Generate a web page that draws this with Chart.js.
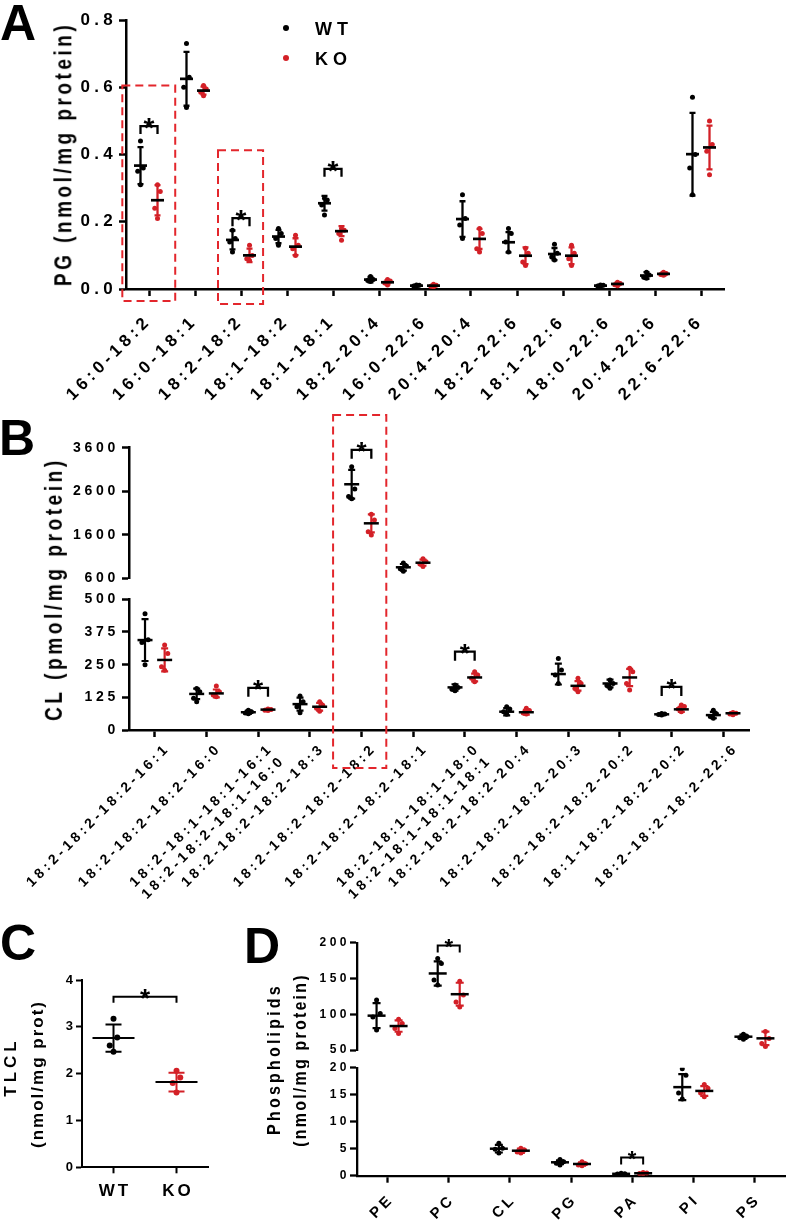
<!DOCTYPE html>
<html>
<head>
<meta charset="utf-8">
<title>PG, CL, TLCL and phospholipids, WT vs KO</title>
<script src="https://cdn.jsdelivr.net/npm/chart.js@4/dist/chart.umd.min.js"></script>
<style>
  html, body { margin: 0; background: #fff; }
  #fig { position: relative; width: 788px; height: 1223px; overflow: hidden;
         font-family: "Liberation Sans", Arial, sans-serif; font-weight: bold; color: #000; }
  #fig canvas { position: absolute; }
  .txt { position: absolute; white-space: nowrap; line-height: 1; }
  .letter { font-size: 50px; }
  .dot { position: absolute; width: 6px; height: 6px; border-radius: 50%; }
</style>
</head>
<body>
<div id="fig">
  <canvas id="chartA" width="788" height="410" style="left:0;top:0"></canvas>
  <canvas id="chartB" width="788" height="570" style="left:0;top:400px"></canvas>
  <canvas id="chartC" width="260" height="283" style="left:0;top:940px"></canvas>
  <canvas id="chartD" width="528" height="323" style="left:260px;top:900px"></canvas>

  <div class="txt letter" style="left:0;top:-2px">A</div>
  <div class="txt letter" style="left:-1px;top:413px">B</div>
  <div class="txt letter" style="left:0;top:918px">C</div>
  <div class="txt letter" style="left:244px;top:921px">D</div>

  <!-- legend of panel A -->
  <div class="dot" style="left:283px;top:25px;background:#000"></div>
  <div class="txt" style="left:315px;top:20px;font-size:18px;letter-spacing:5px">WT</div>
  <div class="dot" style="left:283px;top:55px;background:#d32027"></div>
  <div class="txt" style="left:315px;top:50px;font-size:18px;letter-spacing:5px">KO</div>

  <!-- axis titles -->
  <div class="txt" style="left:63px;top:154px;font-size:19px;letter-spacing:3.5px;transform:translate(-50%,-50%) rotate(-90deg) scaleY(1.3)">PG (nmol/mg protein)</div>
  <div class="txt" style="left:54px;top:589px;font-size:19px;letter-spacing:3.6px;transform:translate(-50%,-50%) rotate(-90deg) scaleY(1.25)">CL (pmol/mg protein)</div>
  <div class="txt" style="left:10px;top:1067px;font-size:17px;letter-spacing:4px;transform:translate(-50%,-50%) rotate(-90deg)">TLCL</div>
  <div class="txt" style="left:37px;top:1074px;font-size:17px;letter-spacing:2px;transform:translate(-50%,-50%) rotate(-90deg)">(nmol/mg prot)</div>
  <div class="txt" style="left:274px;top:1059px;font-size:16px;letter-spacing:3.2px;transform:translate(-50%,-50%) rotate(-90deg) scaleY(1.1)">Phospholipids</div>
  <div class="txt" style="left:300px;top:1060px;font-size:16px;letter-spacing:2.2px;transform:translate(-50%,-50%) rotate(-90deg) scaleY(1.1)">(nmol/mg protein)</div>
</div>

<script>
// ---------- Panel A: PG species (nmol/mg protein), n = 4 per group
const pgSpecies = ['16:0-18:2', '16:0-18:1', '18:2-18:2', '18:1-18:2', '18:1-18:1', '18:2-20:4',
  '16:0-22:6', '20:4-20:4', '18:2-22:6', '18:1-22:6', '18:0-22:6', '20:4-22:6', '22:6-22:6'];
const pgWtMean = [0.367, 0.625, 0.146, 0.156, 0.255, 0.028, 0.010, 0.208, 0.139, 0.104, 0.010, 0.040, 0.401];
const pgWtSd   = [0.055, 0.080, 0.028, 0.020, 0.022, 0.008, 0.002, 0.053, 0.030, 0.018, 0.002, 0.010, 0.123];
const pgKoMean = [0.264, 0.590, 0.100, 0.126, 0.172, 0.020, 0.010, 0.149, 0.099, 0.099, 0.015, 0.045, 0.421];
const pgKoSd   = [0.045, 0.012, 0.020, 0.025, 0.015, 0.006, 0.003, 0.030, 0.025, 0.025, 0.004, 0.005, 0.065];
const pgWtPts = [[0.44, 0.36, 0.35, 0.31], [0.73, 0.63, 0.60, 0.54], [0.175, 0.15, 0.14, 0.11],
  [0.18, 0.165, 0.15, 0.13], [0.27, 0.265, 0.25, 0.22], [0.037, 0.028, 0.025, 0.022],
  [0.012, 0.011, 0.009, 0.008], [0.28, 0.21, 0.19, 0.15], [0.18, 0.165, 0.14, 0.11],
  [0.133, 0.106, 0.095, 0.086], [0.012, 0.011, 0.009, 0.008], [0.05, 0.042, 0.035, 0.032],
  [0.57, 0.40, 0.36, 0.28]];
const pgKoPts = [[0.31, 0.29, 0.24, 0.21], [0.605, 0.595, 0.585, 0.575], [0.13, 0.10, 0.09, 0.085],
  [0.16, 0.13, 0.12, 0.10], [0.18, 0.175, 0.165, 0.145], [0.028, 0.024, 0.018, 0.012],
  [0.014, 0.011, 0.008, 0.006], [0.18, 0.165, 0.12, 0.11], [0.121, 0.106, 0.08, 0.07],
  [0.13, 0.106, 0.09, 0.07], [0.02, 0.016, 0.013, 0.01], [0.05, 0.046, 0.043, 0.041],
  [0.50, 0.43, 0.41, 0.34]];
const pgTicks = [0, 0.8, 0.2];

// ---------- Panel B: CL species (pmol/mg protein), broken axis
const clSpecies = ['18:2-18:2-18:2-16:1', '18:2-18:2-18:2-16:0',
  ['18:2-18:1-18:1-16:1', '18:2-18:2-18:1-16:0'], '18:2-18:2-18:2-18:3', '18:2-18:2-18:2-18:2',
  '18:2-18:2-18:2-18:1', ['18:2-18:1-18:1-18:0', '18:2-18:1-18:1-18:1'], '18:2-18:2-18:2-20:4',
  '18:2-18:2-18:2-20:3', '18:2-18:2-18:2-20:2', '18:1-18:2-18:2-20:2', '18:2-18:2-18:2-22:6'];
const clWtMean = [344, 138, 68, 99, 2760, 853, 163, 70, 214, 178, 60, 57];
const clWtSd   = [80, 20, 6, 25, 330, 75, 12, 14, 40, 15, 3, 12];
const clKoMean = [268, 140, 78, 89, 1863, 958, 201, 68, 169, 201, 79, 64];
const clKoSd   = [44, 15, 3, 15, 207, 70, 15, 9, 18, 33, 10, 4];
const clWtPts = [[445, 345, 335, 250], [159, 146, 121, 108], [76, 70, 65, 62], [130, 108, 89, 66],
  [3160, 2650, 2480, 2430], [950, 880, 820, 760], [172, 163, 156, 150], [89, 80, 70, 60],
  [274, 230, 210, 178], [191, 178, 170, 160], [63, 61, 59, 57], [76, 62, 52, 45]];
const clKoPts = [[325, 293, 242, 229], [168, 146, 134, 127], [80, 78, 76, 75], [108, 95, 83, 72],
  [2070, 1939, 1670, 1594], [1050, 980, 930, 870], [223, 210, 198, 185], [83, 75, 65, 61],
  [198, 178, 159, 146], [236, 223, 178, 153], [96, 90, 80, 70], [67, 64, 61, 58]];
const clLowTicks = [0, 500, 125];
const clTopTicks = [600, 3600, 1000];

// ---------- Panel C: total CL (nmol/mg prot)
const tlclGroups = ['WT', 'KO'];
const tlclMean = [2.76, 1.82];
const tlclSd   = [0.29, 0.20];
const tlclPts  = [[3.17, 2.77, 2.60, 2.47], [2.06, 1.92, 1.80, 1.60]];
const tlclTicks = [0, 4, 1];

// ---------- Panel D: phospholipid classes (nmol/mg protein), broken axis
const plClasses = ['PE', 'PC', 'CL', 'PG', 'PA', 'PI', 'PS'];
const plWtMean = [98, 157, 5.0, 2.48, 0.35, 16.4, 68.6];
const plWtSd   = [17.5, 17, 0.7, 0.35, 0.08, 2.4, 3];
const plKoMean = [83.5, 128, 4.63, 2.17, 0.45, 15.7, 66.3];
const plKoSd   = [8, 16, 0.4, 0.3, 0.1, 0.9, 9.5];
const plWtPts = [[120, 101, 96, 78], [178, 171, 148, 141], [6.0, 5.1, 4.9, 4.2], [3.0, 2.6, 2.3, 2.0],
  [0.45, 0.38, 0.32, 0.28], [19.8, 18.6, 15.3, 14.2], [72, 69, 67, 65]];
const plKoPts = [[93, 87, 80, 73], [146, 127, 117, 110], [5.1, 4.75, 4.4, 4.2], [2.6, 2.2, 2.0, 1.85],
  [0.6, 0.5, 0.4, 0.35], [16.9, 16.2, 15.3, 14.6], [76, 66, 59, 55]];
const plLowTicks = [0, 20, 5];
const plTopTicks = [50, 200, 50];

const BLACK = '#000000';
const RED = '#d32027';
const BOX_RED = '#e3262c';
const FONT = '"Liberation Sans", Arial, sans-serif';
const JIT = [0, 0.06, -0.06, 0];

// one mark = mean, SD and the single points of a group in a category
function buildMarks(groups, splitAt) {
  const marks = [];
  groups.forEach(g => g.mean.forEach((m, i) => {
    if (g.only !== undefined && g.only !== i) return;
    marks.push({
      cat: i, x: i + g.off, mean: m, sd: g.sd[i], pts: g.pts[i], color: g.color,
      axis: splitAt !== undefined && m > splitAt ? 'yTop' : 'y'
    });
  }));
  return marks;
}

function pointDatasets(marks, radius) {
  const sets = {};
  marks.forEach(mk => {
    const key = mk.color + mk.axis;
    if (!sets[key]) {
      sets[key] = { data: [], yAxisID: mk.axis, pointRadius: radius, pointHoverRadius: radius,
        pointBackgroundColor: mk.color, pointBorderColor: mk.color, pointBorderWidth: 0, showLine: false };
    }
    mk.pts.forEach((v, k) => sets[key].data.push({ x: mk.x + JIT[k], y: v }));
  });
  return Object.values(sets);
}

function statPlugin(p) {
  return {
    id: 'stats',
    beforeLayout(chart) { chart.ctx.letterSpacing = p.spacing + 'px'; },
    beforeDraw(chart) { chart.ctx.letterSpacing = p.spacing + 'px'; },
    afterDatasetsDraw(chart) {
      const ctx = chart.ctx, xs = chart.scales.x;
      ctx.save();
      ctx.letterSpacing = '0px';

      // dashed highlight boxes
      (p.boxes || []).forEach(b => {
        const ys = chart.scales[b.axis];
        const x1 = xs.getPixelForValue(b.x1), x2 = xs.getPixelForValue(b.x2);
        const y1 = ys.getPixelForValue(b.top), y2 = chart.chartArea.bottom + b.below;
        ctx.strokeStyle = BOX_RED;
        ctx.lineWidth = 2;
        ctx.setLineDash([8, 5]);
        ctx.strokeRect(x1, y1, x2 - x1, y2 - y1);
      });
      ctx.setLineDash([]);

      // SD bars and mean lines
      p.marks.forEach(mk => {
        const ys = chart.scales[mk.axis];
        const x = xs.getPixelForValue(mk.x);
        const yHi = ys.getPixelForValue(mk.mean + mk.sd);
        const yLo = ys.getPixelForValue(Math.max(mk.mean - mk.sd, ys.min));
        const yM = ys.getPixelForValue(mk.mean);
        ctx.strokeStyle = mk.color;
        ctx.lineWidth = p.barW;
        ctx.beginPath();
        ctx.moveTo(x, yHi); ctx.lineTo(x, yLo);
        ctx.moveTo(x - p.cap, yHi); ctx.lineTo(x + p.cap, yHi);
        ctx.moveTo(x - p.cap, yLo); ctx.lineTo(x + p.cap, yLo);
        ctx.stroke();
        ctx.strokeStyle = BLACK;
        ctx.lineWidth = p.meanW;
        ctx.beginPath();
        ctx.moveTo(x - p.half, yM); ctx.lineTo(x + p.half, yM);
        ctx.stroke();
      });

      // significance brackets
      ctx.strokeStyle = BLACK;
      ctx.fillStyle = BLACK;
      ctx.lineWidth = p.sigW;
      ctx.font = 'bold ' + p.star + 'px ' + FONT;
      ctx.textAlign = 'center';
      ctx.textBaseline = 'alphabetic';
      p.sig.forEach(([a, b, lift]) => {
        const grp = p.marks.filter(mk => mk.cat >= a && mk.cat <= b);
        const xL = xs.getPixelForValue(Math.min(...grp.map(mk => mk.x)));
        const xR = xs.getPixelForValue(Math.max(...grp.map(mk => mk.x)));
        const top = Math.min(...grp.map(mk =>
          chart.scales[mk.axis].getPixelForValue(Math.max(mk.mean + mk.sd, ...mk.pts)))) - lift;
        ctx.beginPath();
        ctx.moveTo(xL, top + p.leg); ctx.lineTo(xL, top); ctx.lineTo(xR, top); ctx.lineTo(xR, top + p.leg);
        ctx.stroke();
        ctx.fillText('*', (xL + xR) / 2, top + 0.4 * p.star);
      });
      ctx.restore();
    }
  };
}

function makeChart(canvasId, p) {
  const yAxis = (t, fmt) => ({
    type: 'linear', position: 'left', min: t[0], max: t[1], bounds: 'data',
    ticks: { stepSize: t[2], callback: fmt || (v => v), color: BLACK, padding: p.yPad, autoSkip: false,
      font: { family: FONT, weight: 'bold', size: p.yFont } },
    grid: { drawOnChartArea: false, tickLength: p.yTick, tickWidth: p.line, tickColor: BLACK },
    border: { color: BLACK, width: p.line },
    afterFit: s => { s.width = p.yWidth; }
  });
  const scales = {
    x: {
      type: 'linear', min: -0.5, max: p.cats.length - 0.5, bounds: 'data',
      afterBuildTicks: s => { s.ticks = p.cats.map((c, i) => ({ value: i })); },
      ticks: { callback: v => p.cats[v], autoSkip: false, minRotation: p.rot, maxRotation: p.rot,
        color: BLACK, padding: p.xPad, labelOffset: p.xOff,
        font: { family: FONT, weight: 'bold', size: p.xFont } },
      grid: { drawOnChartArea: false, tickLength: p.xTick, tickWidth: p.line, tickColor: BLACK },
      border: { color: BLACK, width: p.line },
      afterFit: s => { s.height = p.xHeight; }
    }
  };
  if (p.split) {
    scales.yTop = Object.assign(yAxis(p.topTicks, p.fmt), { stack: 'v', stackWeight: p.split[0], weight: 3 });
    scales.gap = { type: 'linear', position: 'left', stack: 'v', stackWeight: p.split[1], weight: 2,
      min: 0, max: 1, ticks: { display: false }, grid: { display: false }, border: { display: false },
      afterFit: s => { s.width = p.yWidth; } };
    scales.y = Object.assign(yAxis(p.lowTicks, p.fmt), { stack: 'v', stackWeight: p.split[2], weight: 1 });
  } else {
    scales.y = yAxis(p.lowTicks, p.fmt);
  }
  return new Chart(document.getElementById(canvasId), {
    type: 'scatter',
    data: { datasets: pointDatasets(p.marks, p.radius) },
    options: {
      responsive: false, animation: false, events: [], devicePixelRatio: 1,
      layout: { padding: p.padding },
      plugins: { legend: { display: false }, tooltip: { enabled: false } },
      scales
    },
    plugins: [statPlugin(p)]
  });
}

// Panel A
makeChart('chartA', {
  cats: pgSpecies, lowTicks: pgTicks, fmt: v => v.toFixed(1),
  marks: buildMarks([
    { mean: pgWtMean, sd: pgWtSd, pts: pgWtPts, color: BLACK, off: -0.185 },
    { mean: pgKoMean, sd: pgKoSd, pts: pgKoPts, color: RED, off: 0.185 }
  ]),
  padding: { left: 0, top: 20, right: 64, bottom: 0 }, yWidth: 126, xHeight: 121,
  spacing: 4.3, yFont: 17, xFont: 17, yPad: 2, xPad: 15, xOff: 0, rot: 45, yTick: 7, xTick: 7, line: 2.5,
  radius: 2.5, barW: 2.3, meanW: 2.7, cap: 3, half: 6.5,
  sig: [[0, 0, 15], [2, 2, 12], [4, 4, 27]], sigW: 2.3, leg: 8, star: 28,
  boxes: [{ axis: 'y', x1: -0.58, x2: 0.57, top: 0.605, below: 12 },
          { axis: 'y', x1: 1.5, x2: 2.48, top: 0.413, below: 15 }]
});

// Panel B
makeChart('chartB', {
  cats: clSpecies, lowTicks: clLowTicks, topTicks: clTopTicks, split: [130.6, 21, 130.7],
  marks: buildMarks([
    { mean: clWtMean, sd: clWtSd, pts: clWtPts, color: BLACK, off: -0.19 },
    { mean: clKoMean, sd: clKoSd, pts: clKoPts, color: RED, off: 0.19 }
  ], clLowTicks[1]),
  padding: { left: 0, top: 47.7, right: 39, bottom: 0 }, yWidth: 129, xHeight: 240,
  spacing: 3.7, yFont: 14, xFont: 14, yPad: 3, xPad: 3, xOff: 13, rot: 45, yTick: 7, xTick: 7, line: 2.5,
  radius: 2.5, barW: 2.2, meanW: 2.5, cap: 3.5, half: 7.5,
  sig: [[2, 2, 21], [4, 4, 17], [6, 6, 20], [10, 10, 18]], sigW: 2.3, leg: 9, star: 26,
  boxes: [{ axis: 'yTop', x1: 3.45, x2: 4.48, top: 4350, below: 38 }]
});

// Panel C
makeChart('chartC', {
  cats: tlclGroups, lowTicks: tlclTicks,
  marks: buildMarks([
    { mean: tlclMean, sd: tlclSd, pts: tlclPts, color: BLACK, off: 0, only: 0 },
    { mean: tlclMean, sd: tlclSd, pts: tlclPts, color: RED, off: 0, only: 1 }
  ]),
  padding: { left: 0, top: 40, right: 52, bottom: 0 }, yWidth: 82, xHeight: 55.7,
  spacing: 3, yFont: 13, xFont: 17, yPad: 0, xPad: 7.5, xOff: 1.5, rot: 0, yTick: 6, xTick: 6, line: 2,
  radius: 3, barW: 2, meanW: 2, cap: 8, half: 21,
  sig: [[0, 1, 22]], sigW: 2, leg: 6, star: 26
});

// Panel D
makeChart('chartD', {
  cats: plClasses, lowTicks: plLowTicks, topTicks: plTopTicks, split: [107.3, 17.7, 108],
  marks: buildMarks([
    { mean: plWtMean, sd: plWtSd, pts: plWtPts, color: BLACK, off: -0.18 },
    { mean: plKoMean, sd: plKoSd, pts: plKoPts, color: RED, off: 0.18 }
  ], plLowTicks[1]),
  padding: { left: 0, top: 42.7, right: 3, bottom: 0 }, yWidth: 97, xHeight: 47.3,
  spacing: 3.5, yFont: 12, xFont: 15, yPad: 0, xPad: 8, xOff: 4, rot: 45, yTick: 7, xTick: 7, line: 2.3,
  radius: 2.5, barW: 2.2, meanW: 2.5, cap: 4, half: 9,
  sig: [[1, 1, 13], [4, 4, 15]], sigW: 2, leg: 7, star: 22
});
</script>
</body>
</html>
